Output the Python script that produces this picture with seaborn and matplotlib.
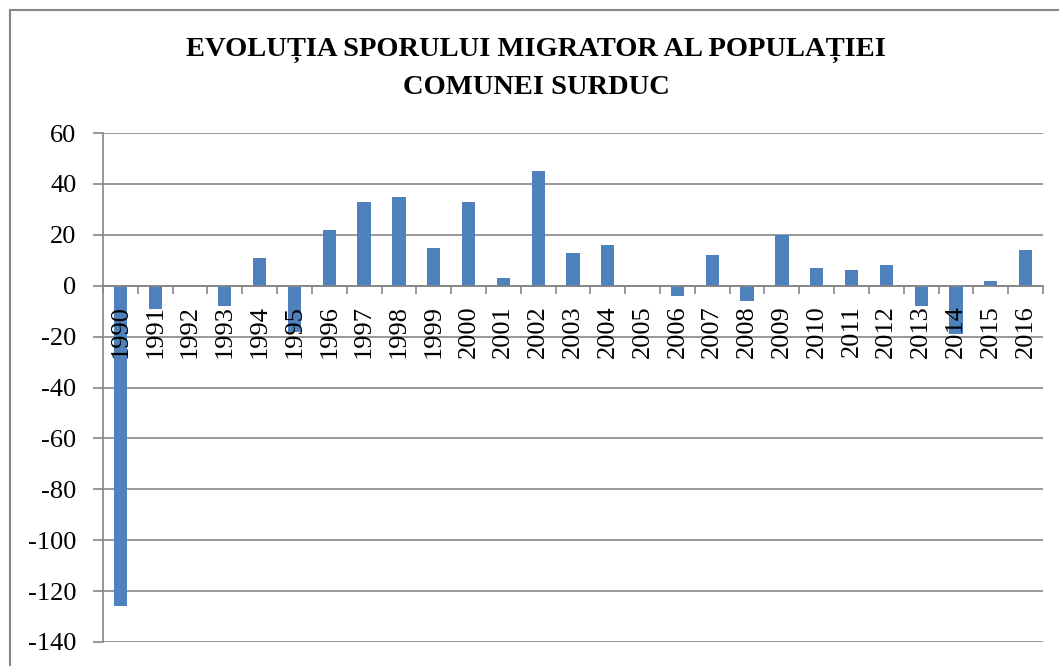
import matplotlib
matplotlib.use("Agg")
import matplotlib.pyplot as plt
from matplotlib.patches import Rectangle
from matplotlib.ticker import FixedLocator
import seaborn as sns
import pandas as pd

# Net migration balance of Surduc commune, by year
years = [str(y) for y in range(1990, 2017)]
values = [-126, -9, 0, -8, 11, -18, 22, 33, 35, 15, 33, 3, 45, 13, 16,
          0, -4, 12, -6, 20, 7, 6, 8, -8, -19, 2, 14]
y_ticks = list(range(-140, 61, 20))

title_lines = ["EVOLUȚIA SPORULUI MIGRATOR AL POPULAȚIEI", "COMUNEI SURDUC"]

sns.set_theme(style="white")
plt.rcParams["font.family"] = ["Liberation Serif", "DejaVu Serif"]
plt.rcParams["axes.unicode_minus"] = False
plt.rcParams["text.color"] = "black"
plt.rcParams["xtick.labelcolor"] = "black"
plt.rcParams["ytick.labelcolor"] = "black"

df = pd.DataFrame({"an": years, "spor": values})

fig = plt.figure(figsize=(10.59, 6.66), dpi=100)
ax = fig.add_axes([103 / 1059, 24 / 666, (1043 - 103) / 1059, (642 - 133) / 666])

grey = "#868686"

# horizontal gridlines sit behind the bars
for v in y_ticks:
    ax.axhline(v, color=grey, linewidth=1.2, zorder=0.5)

sns.barplot(data=df, x="an", y="spor", color="#4F81BD", saturation=1,
            width=0.38, linewidth=0, ax=ax, zorder=1)

# axis (ticks and labels) drawn over the bars
ax.set_axisbelow(False)
ax.set_xlim(-0.5, len(years) - 0.5)
ax.set_ylim(-140, 60)
ax.set_yticks(y_ticks)
ax.set_yticklabels([str(v) for v in y_ticks])
ax.set_xlabel("")
ax.set_ylabel("")
ax.grid(False)

for side in ("top", "right"):
    ax.spines[side].set_visible(False)
ax.spines["left"].set_color(grey)
ax.spines["left"].set_linewidth(1.2)
ax.spines["bottom"].set_position(("data", 0))
ax.spines["bottom"].set_color(grey)
ax.spines["bottom"].set_linewidth(1.2)

ax.tick_params(axis="y", which="major", length=7, width=1.2, color=grey,
               direction="out", left=True, labelsize=19, pad=12)
ax.tick_params(axis="x", which="major", length=0, labelsize=19, pad=14,
               labelrotation=90)
ax.xaxis.set_minor_locator(FixedLocator([i - 0.5 for i in range(len(years) + 1)]))
ax.tick_params(axis="x", which="minor", length=6, width=1.2, color=grey,
               direction="out", bottom=True)
for lbl in ax.get_xticklabels():
    lbl.set_verticalalignment("top")

for line, ypix in zip(title_lines, (50, 88)):
    fig.text(536 / 1059, 1 - ypix / 666, line, ha="center", va="center",
             fontsize=20.5, fontweight="bold", color="black",
             family=["Liberation Serif", "DejaVu Serif"])

fig.patches.append(Rectangle((10 / 1059, -0.1), 1.2, 1 - 10 / 666 + 0.1,
                             transform=fig.transFigure, fill=False,
                             edgecolor=grey, linewidth=1.5, zorder=0))

fig.savefig("out.png", dpi=100)
